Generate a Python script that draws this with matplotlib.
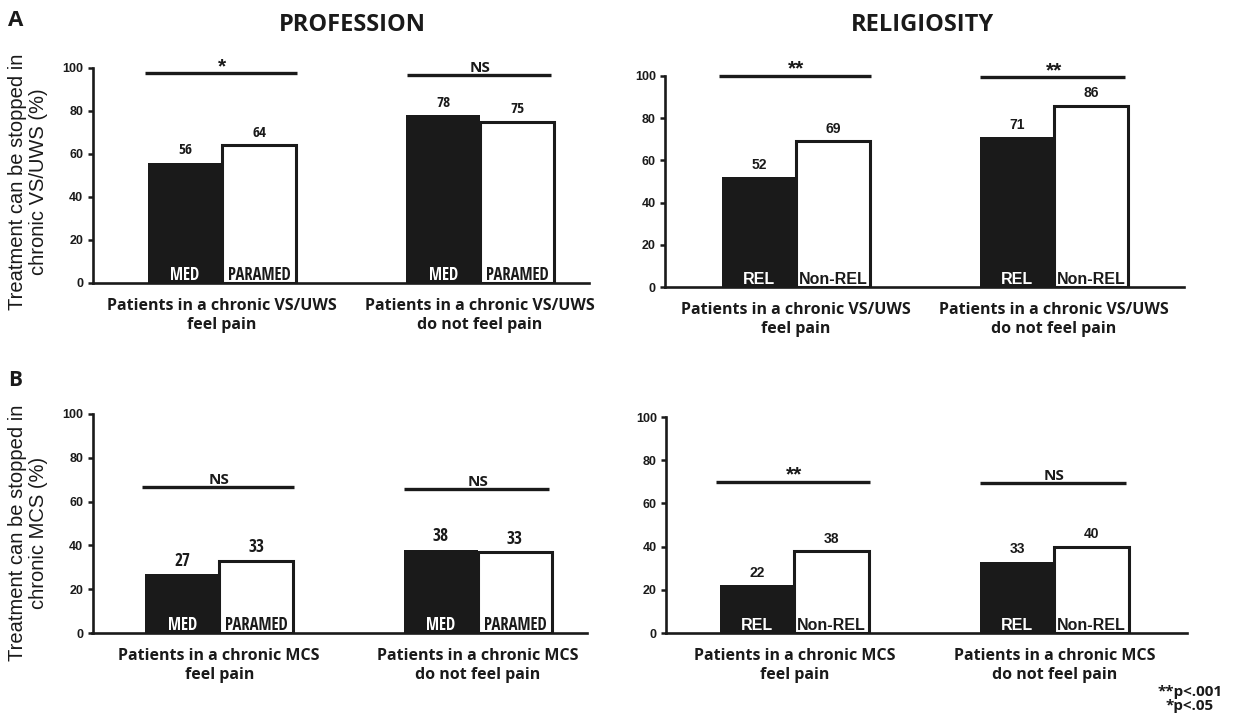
import matplotlib
matplotlib.use("Agg")
import matplotlib.pyplot as plt
from matplotlib import font_manager
import numpy as np

# ---------------- data ----------------
groups_vs = ["Patients in a chronic VS/UWS\nfeel pain", "Patients in a chronic VS/UWS\ndo not feel pain"]
groups_mcs = ["Patients in a chronic MCS\nfeel pain", "Patients in a chronic MCS\ndo not feel pain"]

prof_names = ["MED", "PARAMED"]
rel_names = ["REL", "Non-REL"]

# A - VS/UWS
prof_vs_med = [56, 78]
prof_vs_paramed = [64, 75]
rel_vs_rel = [52, 71]
rel_vs_nonrel = [69, 86]

# B - MCS (bar heights as drawn, printed labels separately)
prof_mcs_med = [27, 38]
prof_mcs_paramed = [33, 37]
prof_mcs_paramed_labels = ["33", "33"]
rel_mcs_rel = [22, 33]
rel_mcs_nonrel = [38, 40]

# significance
sig_prof_vs = ["*", "NS"]
sig_rel_vs = ["**", "**"]
sig_prof_mcs = ["NS", "NS"]
sig_rel_mcs = ["**", "NS"]
sig_lvl_prof_vs = [97.5, 96.7]
sig_lvl_rel_vs = [100, 99.3]
sig_lvl_prof_mcs = [66.7, 65.7]
sig_lvl_rel_mcs = [70, 69.4]

yticks = [0, 20, 40, 60, 80, 100]

# ---------------- fonts ----------------
names = {f.name for f in font_manager.fontManager.ttflist}
COND = "Open Sans Condensed" if "Open Sans Condensed" in names else "Liberation Sans"
SEMI = "Open Sans" if "Open Sans" in names else "Liberation Sans"
ARIAL = "Liberation Sans"
DARK = "#1a1a1a"

W, H = 1235, 720
fig = plt.figure(figsize=(W / 100, H / 100), dpi=100)


def rect(x0, x1, y0, y100):
    return [x0 / W, 1 - y0 / H, (x1 - x0) / W, (y0 - y100) / H]


def panel(r, xlim, cats, dvals, lvals, dlabels, llabels, bnames, sigs, siglv,
          valfam, valsz, barfam, barsz):
    ax = fig.add_axes(r)
    x = np.arange(len(cats))
    w = 0.287
    ax.bar(x - w / 2, dvals, w, color=DARK, lw=0, zorder=2)
    ax.bar(x + w / 2, lvals, w, facecolor="white", edgecolor=DARK, lw=2.2, zorder=2)
    ax.set_xlim(*xlim)
    ax.set_ylim(0, 100)
    ax.set_yticks(yticks)
    ax.set_xticks([])
    for s in ["top", "right"]:
        ax.spines[s].set_visible(False)
    for s in ["left", "bottom"]:
        ax.spines[s].set_linewidth(1.9)
        ax.spines[s].set_color(DARK)
        ax.spines[s].set_zorder(4)
    ax.tick_params(axis="y", direction="out", length=3.6, width=1.8, pad=3, color=DARK)
    for t in ax.get_yticklabels():
        t.set_fontfamily(ARIAL)
        t.set_fontweight("bold")
        t.set_fontsize(9)
        t.set_color(DARK)
    for i in range(len(cats)):
        xd, xl = x[i] - w / 2, x[i] + w / 2
        ax.annotate(dlabels[i], xy=(xd, dvals[i]), xytext=(0, 6), textcoords="offset points",
                    ha="center", va="baseline", fontfamily=valfam, fontweight="bold",
                    fontsize=valsz, color=DARK)
        ax.annotate(llabels[i], xy=(xl, lvals[i]), xytext=(0, 6), textcoords="offset points",
                    ha="center", va="baseline", fontfamily=valfam, fontweight="bold",
                    fontsize=valsz, color=DARK)
        ax.annotate(bnames[0], xy=(xd, 0), xytext=(0, 2.3), textcoords="offset points",
                    ha="center", va="baseline", fontfamily=barfam, fontweight="bold",
                    fontsize=barsz, color="white", zorder=5)
        ax.annotate(bnames[1], xy=(xl, 0), xytext=(0, 2.3), textcoords="offset points",
                    ha="center", va="baseline", fontfamily=barfam, fontweight="bold",
                    fontsize=barsz, color=DARK, zorder=5)
        ax.annotate(cats[i], xy=(x[i], 0), xytext=(0, -10.5), textcoords="offset points",
                    ha="center", va="top", fontfamily=SEMI, fontweight="bold",
                    fontsize=11.5, color=DARK, linespacing=1.3)
        x0, x1 = (-0.30, 0.29) if i == 0 else (-0.285, 0.275)
        ax.plot([x[i] + x0, x[i] + x1], [siglv[i], siglv[i]], color=DARK, lw=2.4,
                solid_capstyle="butt", clip_on=False, zorder=3)
        if "*" in sigs[i]:
            ax.annotate(sigs[i], xy=(x[i], siglv[i]), xytext=(0, 1.0), textcoords="offset points",
                        ha="center", va="baseline", fontfamily=ARIAL, fontweight="bold",
                        fontsize=15, color=DARK)
        else:
            ax.annotate(sigs[i], xy=(x[i], siglv[i]), xytext=(0, 2.2), textcoords="offset points",
                        ha="center", va="baseline", fontfamily=SEMI, fontweight="bold",
                        fontsize=11, color=DARK)
    return ax


# A - profession
panel(rect(92.5, 589, 283, 68), (-0.502, 1.422), groups_vs, prof_vs_med, prof_vs_paramed,
      [str(v) for v in prof_vs_med], [str(v) for v in prof_vs_paramed], prof_names,
      sig_prof_vs, sig_lvl_prof_vs, COND, 11, COND, 12)
# A - religiosity
panel(rect(665, 1184, 287, 76), (-0.508, 1.504), groups_vs, rel_vs_rel, rel_vs_nonrel,
      [str(v) for v in rel_vs_rel], [str(v) for v in rel_vs_nonrel], rel_names,
      sig_rel_vs, sig_lvl_rel_vs, ARIAL, 10, ARIAL, 11.5)
# B - profession
panel(rect(92.5, 587, 633, 414), (-0.49, 1.422), groups_mcs, prof_mcs_med, prof_mcs_paramed,
      [str(v) for v in prof_mcs_med], prof_mcs_paramed_labels, prof_names,
      sig_prof_mcs, sig_lvl_prof_mcs, COND, 12.5, COND, 12)
# B - religiosity
panel(rect(666, 1187, 633, 417), (-0.494, 1.51), groups_mcs, rel_mcs_rel, rel_mcs_nonrel,
      [str(v) for v in rel_mcs_rel], [str(v) for v in rel_mcs_nonrel], rel_names,
      sig_rel_mcs, sig_lvl_rel_mcs, ARIAL, 10, ARIAL, 11.5)

# titles and panel letters
fig.text(352 / W, 1 - 25 / H, "PROFESSION", ha="center", va="center", fontfamily=SEMI,
         fontweight="bold", fontsize=17, color=DARK)
fig.text(922 / W, 1 - 25 / H, "RELIGIOSITY", ha="center", va="center", fontfamily=SEMI,
         fontweight="bold", fontsize=17, color=DARK)
fig.text(8 / W, 1 - 21 / H, "A", ha="left", va="center", fontfamily=SEMI,
         fontweight="bold", fontsize=16, color=DARK)
fig.text(8 / W, 1 - 380 / H, "B", ha="left", va="center", fontfamily=SEMI,
         fontweight="bold", fontsize=15, color=DARK)

# y labels
fig.text(28 / W, 1 - 182 / H, "Treatment can be stopped in\nchronic VS/UWS (%)", rotation=90,
         ha="center", va="center", multialignment="center", fontfamily=ARIAL,
         fontsize=14.5, color=DARK, linespacing=1.15)
fig.text(28 / W, 1 - 533 / H, "Treatment can be stopped in\nchronic MCS (%)", rotation=90,
         ha="center", va="center", multialignment="center", fontfamily=ARIAL,
         fontsize=14.5, color=DARK, linespacing=1.15)

# footnote
fig.text(1190 / W, 1 - 699 / H, "**p<.001\n*p<.05", ha="center", va="center",
         multialignment="center", fontfamily=SEMI, fontweight="bold",
         fontsize=11, color=DARK, linespacing=1.0)

fig.savefig("out.png", dpi=100)
